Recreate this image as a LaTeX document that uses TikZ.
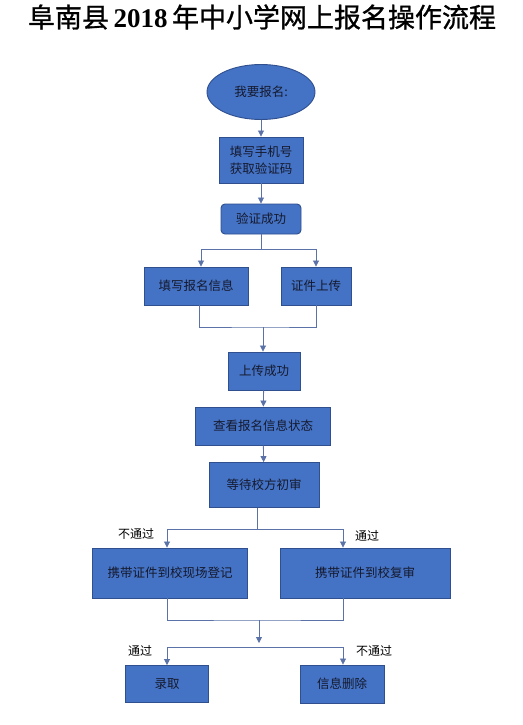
\documentclass[tikz,border=0pt]{standalone}
\usepackage{fontspec}
\setmainfont{Liberation Serif}
\newfontfamily\cjk{Noto Sans CJK SC}
\newfontfamily\cjkhead{Noto Sans CJK SC}[FakeBold=1]
\usetikzlibrary{arrows.meta,positioning,calc,shapes.geometric}
\definecolor{boxblue}{HTML}{4472C4}
\definecolor{boxline}{HTML}{2F4F8F}
\definecolor{linkblue}{HTML}{5A72A8}
\definecolor{inktext}{HTML}{151A2E}
\tikzset{
  title/.style={font=\fontsize{27}{30}\selectfont,text=black},
  stepbox/.style={draw=boxline,fill=boxblue,line width=0.9pt,font=\cjk\fontsize{12.5}{17}\selectfont,text=inktext,align=center,inner sep=0pt},
  roundbox/.style={stepbox,rounded corners=4pt},
  oval/.style={ellipse,draw=boxline,fill=boxblue,line width=0.9pt,font=\cjk\fontsize{12.5}{15}\selectfont,text=inktext,inner sep=0pt},
  lbl/.style={font=\cjk\fontsize{12}{14}\selectfont,text=black},
  link/.style={draw=linkblue,line width=0.8pt},
  arr/.style={link,-{Triangle[length=6pt,width=6pt]}}
}
\begin{document}
\begin{tikzpicture}[x=1pt,y=-1pt]
\path[use as bounding box,fill=white] (0,0) rectangle (522,725);
\node[title] (head) at (262,17) {{\cjkhead 阜南县}\,\textbf{2018}\,{\cjkhead 年中小学网上报名操作流程}};
% registration
\node[oval,minimum width=108pt,minimum height=55pt] (start) at (261,92) {我要报名:};
\node[stepbox,minimum width=84pt,minimum height=46pt] (phone) at (261,160) {填写手机号\\获取验证码};
\node[roundbox,minimum width=80pt,minimum height=30pt] (verified) at (261,219) {验证成功};
\draw[arr] (start) -- (phone);
\draw[arr] (phone) -- (verified);
\node[stepbox,minimum width=104pt,minimum height=38pt] (info) at (196,286) {填写报名信息};
\node[stepbox,minimum width=70pt,minimum height=38pt] (cert) at (316,286) {证件上传};
\coordinate (split1) at (261,249);
\draw[link] (verified) -- (split1);
\draw[arr] (split1) -| ([xshift=5pt]info.north);
\draw[arr] (split1) -| (cert.north);
\node[stepbox,minimum width=72pt,minimum height=38pt] (uploaded) at (264,371) {上传成功};
\coordinate (join1) at (263,327);
\draw[link] ([xshift=3pt]info.south) |- (join1) -| (cert.south);
\draw[arr] (join1) -- (join1 |- uploaded.north);
\node[stepbox,minimum width=135pt,minimum height=38pt] (status) at (263,426) {查看报名信息状态};
\node[stepbox,minimum width=110pt,minimum height=45pt] (review) at (264,485) {等待校方初审};
\draw[arr] (uploaded) -- (status);
\draw[arr] (status) -- (review);
% school review
\node[stepbox,minimum width=155pt,minimum height=50pt] (onsite) at (170,573) {携带证件到校现场登记};
\node[stepbox,minimum width=170pt,minimum height=50pt] (recheck) at (365,573) {携带证件到校复审};
\coordinate (split2) at (257,529);
\draw[link] (review.south -| split2) -- (split2);
\draw[arr] (split2) -| ([xshift=-3pt]onsite.north);
\draw[arr] (split2) -| ([xshift=-22pt]recheck.north);
\node[lbl] (fail1) at (136,534) {不通过};
\node[lbl] (pass1) at (367,536) {通过};
% result
\node[stepbox,minimum width=83pt,minimum height=37pt] (admit) at (167,684) {录取};
\node[stepbox,minimum width=84pt,minimum height=38pt] (remove) at (342,684) {信息删除};
\coordinate (join2) at (259,620);
\coordinate (join3) at (259,643);
\coordinate (split3) at (259,647);
\draw[link] ([xshift=-3pt]onsite.south) |- (join2) -| ([xshift=-22pt]recheck.south);
\draw[arr] (join2) -- (join3);
\draw[arr] (split3) -| (admit.north);
\draw[arr] (split3) -| ([xshift=1pt]remove.north);
\node[lbl] (pass2) at (140,651) {通过};
\node[lbl] (fail2) at (374,651) {不通过};
\end{tikzpicture}
\end{document}
